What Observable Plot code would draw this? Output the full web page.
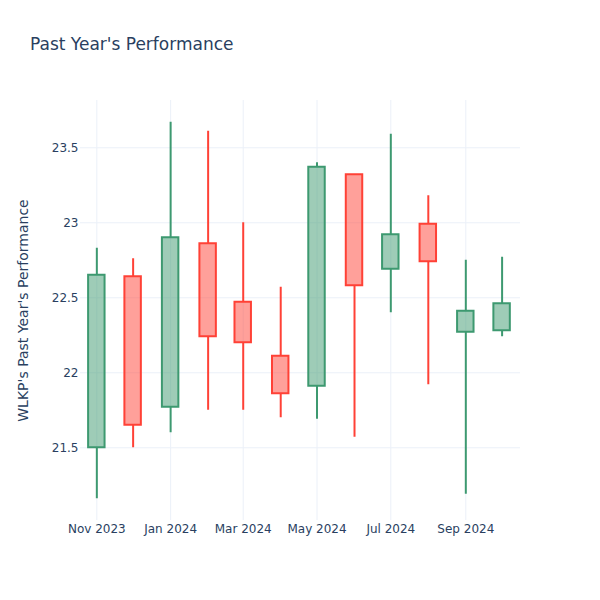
<!DOCTYPE html>
<html>
<head>
<meta charset="utf-8">
<script src="https://cdn.jsdelivr.net/npm/d3@7"></script>
<script src="https://cdn.jsdelivr.net/npm/@observablehq/plot@0.6"></script>
<style>
  html, body { margin: 0; padding: 0; background: white; }
  #wrap { width: 600px; height: 600px; position: relative; background: white; font-family: "DejaVu Sans", sans-serif; }
  #title { position: relative; height: 70px; }
  #title span { position: absolute; left: 30px; top: 34px; font-size: 17px; line-height: 20px; color: #2a3f5f; white-space: nowrap; }
  svg [aria-label="y-axis label"] text { font-size: 14px; }
</style>
</head>
<body>
<div id="wrap">
  <div id="title"><span>Past Year's Performance</span></div>
  <div id="chart"></div>
</div>
<script>
// Monthly candles (first of each month)
const dates  = ["2023-11-01","2023-12-01","2024-01-01","2024-02-01","2024-03-01","2024-04-01",
                "2024-05-01","2024-06-01","2024-07-01","2024-08-01","2024-09-01","2024-10-01"];
const opens  = [21.50, 22.64, 21.77, 22.86, 22.47, 22.11, 21.91, 23.32, 22.69, 22.99, 22.27, 22.28];
const highs  = [22.83, 22.76, 23.67, 23.61, 23.00, 22.57, 23.40, 23.32, 23.59, 23.18, 22.75, 22.77];
const lows   = [21.16, 21.50, 21.60, 21.75, 21.75, 21.70, 21.69, 21.57, 22.40, 21.92, 21.19, 22.24];
const closes = [22.65, 21.65, 22.90, 22.24, 22.20, 21.86, 23.37, 22.58, 22.92, 22.74, 22.41, 22.46];

const yTicks = [21.5, 22, 22.5, 23, 23.5];
const xTickDates = ["2023-11-01","2024-01-01","2024-03-01","2024-05-01","2024-07-01","2024-09-01"];
const yLabel = "WLKP's Past Year's Performance";

const INC = "#3D9970", DEC = "#FF4136";
const DAY = 864e5;
const halfBox = 6.8 * DAY;

const data = dates.map((d, i) => ({
  date: new Date(d + "T00:00:00Z"),
  open: opens[i], high: highs[i], low: lows[i], close: closes[i]
}));
const col = d => d.close >= d.open ? INC : DEC;
const xTicks = xTickDates.map(d => new Date(d + "T00:00:00Z"));

const chart = Plot.plot({
  width: 600,
  height: 530,
  marginTop: 30,
  marginBottom: 80,
  marginLeft: 80,
  marginRight: 80,
  style: { fontFamily: "DejaVu Sans, sans-serif", fontSize: "12px", color: "#2a3f5f", background: "white" },
  x: { type: "utc", domain: [new Date("2023-10-18T12:00:00Z"), new Date("2024-10-16T05:00:00Z")] },
  y: { domain: [21.015, 23.815] },
  marks: [
    Plot.gridX(xTicks, { stroke: "#EBF0F8", strokeOpacity: 1, strokeWidth: 1 }),
    Plot.gridY(yTicks, { stroke: "#EBF0F8", strokeOpacity: 1, strokeWidth: 1 }),
    Plot.axisX(xTicks, { tickFormat: d3.utcFormat("%b %Y"), tickSize: 0, tickPadding: 4, label: null }),
    Plot.axisY(yTicks, { tickFormat: d3.format("~f"), tickSize: 0, tickPadding: 2, label: yLabel,
                         labelAnchor: "center", labelArrow: false, labelOffset: 62 }),
    // lower wick
    Plot.ruleX(data, { x: "date", y1: "low", y2: d => Math.min(d.open, d.close), stroke: col, strokeWidth: 2 }),
    // upper wick
    Plot.ruleX(data, { x: "date", y1: d => Math.max(d.open, d.close), y2: "high", stroke: col, strokeWidth: 2 }),
    // body
    Plot.rect(data, {
      x1: d => new Date(+d.date - halfBox),
      x2: d => new Date(+d.date + halfBox),
      y1: "open", y2: "close",
      fill: col, fillOpacity: 0.5, stroke: col, strokeWidth: 2
    })
  ]
});
document.getElementById("chart").appendChild(chart);
</script>
</body>
</html>
